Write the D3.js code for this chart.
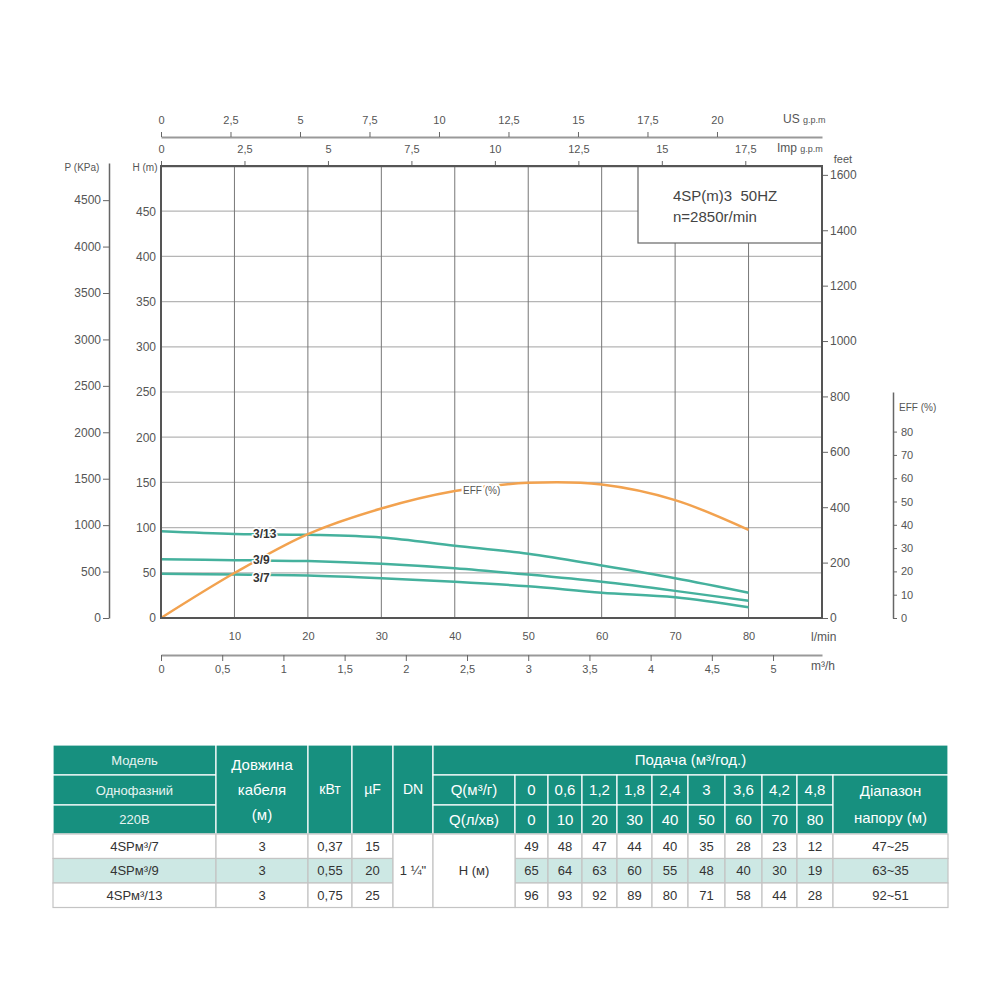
<!DOCTYPE html>
<html>
<head>
<meta charset="utf-8">
<script src="https://cdn.jsdelivr.net/npm/d3@7"></script>
<style>
body { margin: 0; background: #fff; }
svg text { font-family: "Liberation Sans Narrow", "Liberation Sans", Arial, sans-serif; }
.tbl text { font-family: "Liberation Sans", Arial, sans-serif; }
</style>
</head>
<body>
<svg id="chart" width="1000" height="1000"></svg>
<script>
// flow points (l/min and m3/h) used by the curves and the table
const flowLmin = [0, 10, 20, 30, 40, 50, 60, 70, 80];
const flowM3 = ['0', '0,6', '1,2', '1,8', '2,4', '3', '3,6', '4,2', '4,8'];

// pump models
const models = ['4SPм³/7', '4SPм³/9', '4SPм³/13'];
const curveNames = ['3/7', '3/9', '3/13'];
const cableLen = ['3', '3', '3'];
const powerKw = ['0,37', '0,55', '0,75'];
const capUf = ['15', '20', '25'];
const headRange = ['47~25', '63~35', '92~51'];

// head, m
const head7 = [49, 48, 47, 44, 40, 35, 28, 23, 12];
const head9 = [65, 64, 63, 60, 55, 48, 40, 30, 19];
const head13 = [96, 93, 92, 89, 80, 71, 58, 44, 28];

// efficiency %
const effVal = [0, 19.3, 36, 47, 54.5, 58, 57.3, 50.6, 37.8];

// tick values
const hTicks = [0, 50, 100, 150, 200, 250, 300, 350, 400, 450];
const pTicks = [0, 500, 1000, 1500, 2000, 2500, 3000, 3500, 4000, 4500];
const ftTicks = [0, 200, 400, 600, 800, 1000, 1200, 1400, 1600];
const effTicks = [0, 10, 20, 30, 40, 50, 60, 70, 80];
const usTicks = [0, 2.5, 5, 7.5, 10, 12.5, 15, 17.5, 20];
const impTicks = [0, 2.5, 5, 7.5, 10, 12.5, 15, 17.5];
const m3Ticks = [0, 0.5, 1, 1.5, 2, 2.5, 3, 3.5, 4, 4.5, 5];

const svg = d3.select('#chart');
const L = 161, R = 822, T = 166, B = 618;
const teal = '#17907f', lightTeal = '#cde8e4';
const headColor = '#45b19d', effColor = '#f2a24f';

const x = d3.scaleLinear().domain([0, 90]).range([L, R]);
const yH = d3.scaleLinear().domain([0, 500]).range([B, T]);
const yP = d3.scaleLinear().domain([0, 4900]).range([B, 163]);
const yFt = d3.scaleLinear().domain([0, 1632]).range([B, T]);
const yEff = d3.scaleLinear().domain([0, 97]).range([B, 392]);
const xUS = d3.scaleLinear().domain([0, 90 / 3.785]).range([L, R]);
const xImp = d3.scaleLinear().domain([0, 90 / 4.546]).range([L, R]);
const xM3 = d3.scaleLinear().domain([0, 5.4]).range([L, R]);

const fmt = d => String(d).replace('.', ',');
const plain = d => String(d);

function styleAxis(g, size) {
    g.select('.domain').attr('stroke', '#666').attr('stroke-width', 1.5);
    g.selectAll('.tick line').attr('stroke', '#666');
    g.selectAll('.tick text').attr('fill', '#555').style('font-size', size + 'px');
}

// grid
svg.append('g')
    .selectAll('line')
    .data(hTicks.slice(1))
    .join('line')
    .attr('x1', L).attr('x2', R)
    .attr('y1', d => yH(d)).attr('y2', d => yH(d))
    .attr('stroke', '#b5b5b5').attr('stroke-width', 1.2);
svg.append('g')
    .selectAll('line')
    .data(flowLmin.slice(1))
    .join('line')
    .attr('x1', d => x(d)).attr('x2', d => x(d))
    .attr('y1', T).attr('y2', B)
    .attr('stroke', '#777').attr('stroke-width', 1);

// legend box
svg.append('rect')
    .attr('x', 638).attr('y', T).attr('width', R - 638).attr('height', 77)
    .attr('fill', '#fff').attr('stroke', '#666').attr('stroke-width', 1.2);
svg.append('text').attr('x', 673).attr('y', 201)
    .attr('fill', '#444').style('font-size', '15px').style('white-space', 'pre')
    .style('font-family', '"Liberation Sans", Arial, sans-serif')
    .text('4SP(m)3  50HZ');
svg.append('text').attr('x', 673).attr('y', 222)
    .attr('fill', '#444').style('font-size', '15px')
    .style('font-family', '"Liberation Sans", Arial, sans-serif')
    .text('n=2850r/min');

// curves
const headLine = d3.line()
    .x((d, i) => x(flowLmin[i]))
    .y(d => yH(d))
    .curve(d3.curveCatmullRom);
svg.append('g')
    .selectAll('path')
    .data([head7, head9, head13])
    .join('path')
    .attr('d', headLine)
    .attr('fill', 'none').attr('stroke', headColor).attr('stroke-width', 2.5);

const effLine = d3.line()
    .x((d, i) => x(flowLmin[i]))
    .y(d => yEff(d))
    .curve(d3.curveCatmullRom);
svg.append('path')
    .datum(effVal)
    .attr('d', effLine)
    .attr('fill', 'none').attr('stroke', effColor).attr('stroke-width', 2.5);

// curve labels
const labelY = [head7[1], head9[1], head13[1]];
svg.append('g')
    .selectAll('text')
    .data(curveNames)
    .join('text')
    .attr('x', 253)
    .attr('y', (d, i) => yH(labelY[i]) + 4 + (i === 0 ? 3 : 0))
    .attr('fill', '#333').attr('font-weight', 'bold').style('font-size', '12px')
    .attr('stroke', '#fff').attr('stroke-width', 3).attr('paint-order', 'stroke')
    .text(d => d);
svg.append('text')
    .attr('x', 463).attr('y', 494)
    .attr('fill', '#555').style('font-size', '10px')
    .attr('stroke', '#fff').attr('stroke-width', 4).attr('paint-order', 'stroke')
    .text('EFF (%)');

// axes
svg.append('g').attr('transform', 'translate(0,137)')
    .call(d3.axisTop(xUS).tickValues(usTicks).tickSize(5).tickSizeOuter(0).tickPadding(8).tickFormat(fmt))
    .call(g => styleAxis(g, 11))
    .call(g => g.select('.domain').attr('stroke', '#999').attr('stroke-width', 2));

svg.append('g').attr('transform', `translate(0,${T})`)
    .call(d3.axisTop(xImp).tickValues(impTicks).tickSize(5).tickSizeOuter(0).tickPadding(8).tickFormat(fmt))
    .call(g => styleAxis(g, 11));

svg.append('g').attr('transform', `translate(0,${B})`)
    .call(d3.axisBottom(x).tickValues(flowLmin.slice(1)).tickSize(0).tickPadding(14))
    .call(g => styleAxis(g, 11))
    .call(g => g.select('.domain').remove());

svg.append('g').attr('transform', 'translate(0,655)')
    .call(d3.axisBottom(xM3).tickValues(m3Ticks).tickSize(6).tickSizeOuter(0).tickPadding(4).tickFormat(fmt))
    .call(g => styleAxis(g, 11))
    .call(g => g.select('.domain').attr('stroke', '#999').attr('stroke-width', 2));

svg.append('g').attr('transform', `translate(${R},0)`)
    .call(d3.axisRight(yFt).tickValues(ftTicks).tickSize(6).tickPadding(2).tickFormat(plain))
    .call(g => styleAxis(g, 12))
    .call(g => g.select('.domain').remove());

svg.append('g').attr('transform', 'translate(893,0)')
    .call(d3.axisRight(yEff).tickValues(effTicks).tickSize(4).tickSizeOuter(0).tickPadding(4).tickFormat(plain))
    .call(g => styleAxis(g, 11));

svg.append('g').attr('transform', 'translate(109,0)')
    .call(d3.axisLeft(yP).tickValues(pTicks).tickSize(6).tickSizeOuter(0).tickPadding(2).tickFormat(plain))
    .call(g => styleAxis(g, 12));

svg.append('g').attr('transform', `translate(${L},0)`)
    .call(d3.axisLeft(yH).tickValues(hTicks).tickSize(0).tickPadding(5).tickFormat(plain))
    .call(g => styleAxis(g, 12))
    .call(g => g.select('.domain').remove());

// plot border
svg.append('rect')
    .attr('x', L).attr('y', T).attr('width', R - L).attr('height', B - T)
    .attr('fill', 'none').attr('stroke', '#555').attr('stroke-width', 2);

// axis titles
const titles = [
    {t: 'P (KPa)', x: 82, y: 171, a: 'middle', s: 10},
    {t: 'H (m)', x: 145, y: 171, a: 'middle', s: 10},
    {t: 'feet', x: 843, y: 163, a: 'middle', s: 11},
    {t: 'EFF (%)', x: 899, y: 411, a: 'start', s: 10},
    {t: 'l/min', x: 811, y: 641, a: 'start', s: 12}
];
svg.append('g')
    .selectAll('text')
    .data(titles)
    .join('text')
    .attr('x', d => d.x).attr('y', d => d.y)
    .attr('text-anchor', d => d.a)
    .attr('fill', '#555').style('font-size', d => d.s + 'px')
    .text(d => d.t);

const us = svg.append('text').attr('x', 783).attr('y', 123).attr('fill', '#555');
us.append('tspan').style('font-size', '12px').text('US ');
us.append('tspan').style('font-size', '9px').text('g.p.m');
const imp = svg.append('text').attr('x', 777).attr('y', 152).attr('fill', '#555');
imp.append('tspan').style('font-size', '12px').text('Imp ');
imp.append('tspan').style('font-size', '9px').text('g.p.m');
svg.append('text').attr('x', 811).attr('y', 670).attr('fill', '#555')
    .style('font-size', '12px').text('m³/h');

// table
const colX = [53, 216, 308, 352, 393, 433, 515, 548, 582, 617, 652, 688, 725, 762, 797, 833, 948];
const rowY = [745, 775, 805, 834, 858.5, 883, 907.5];
const tbl = svg.append('g').attr('class', 'tbl');

function cell(c0, c1, r0, r1, fill, stroke, lines, size, color, lh) {
    const x0 = colX[c0], x1 = colX[c1], y0 = rowY[r0], y1 = rowY[r1];
    tbl.append('rect')
        .attr('x', x0).attr('y', y0).attr('width', x1 - x0).attr('height', y1 - y0)
        .attr('fill', fill).attr('stroke', stroke).attr('stroke-width', 1.2);
    const step = lh || size * 1.7;
    const cy = (y0 + y1) / 2 - (lines.length - 1) * step / 2;
    lines.forEach((t, i) => {
        tbl.append('text')
            .attr('x', (x0 + x1) / 2).attr('y', cy + i * step)
            .attr('dy', '0.35em').attr('text-anchor', 'middle')
            .attr('fill', color).style('font-size', size + 'px')
            .text(t);
    });
}

const hw = '#fff';
cell(0, 1, 0, 1, teal, hw, ['Модель'], 13, '#e8f4f2');
cell(0, 1, 1, 2, teal, hw, ['Однофазний'], 13, '#e8f4f2');
cell(0, 1, 2, 3, teal, hw, ['220В'], 13, '#e8f4f2');
cell(1, 2, 0, 3, teal, hw, ['Довжина', 'кабеля', '(м)'], 15, '#fff', 25);
cell(2, 3, 0, 3, teal, hw, ['кВт'], 14, '#fff');
cell(3, 4, 0, 3, teal, hw, ['µF'], 14, '#fff');
cell(4, 5, 0, 3, teal, hw, ['DN'], 14, '#fff');
cell(5, 16, 0, 1, teal, hw, ['Подача (м³/год.)'], 15, '#fff');
cell(5, 6, 1, 2, teal, hw, ['Q(м³/г)'], 15, '#fff');
cell(5, 6, 2, 3, teal, hw, ['Q(л/хв)'], 15, '#fff');
flowM3.forEach((v, i) => cell(6 + i, 7 + i, 1, 2, teal, hw, [v], 15, '#fff'));
flowLmin.forEach((v, i) => cell(6 + i, 7 + i, 2, 3, teal, hw, [String(v)], 15, '#fff'));
cell(15, 16, 1, 3, teal, hw, ['Діапазон', 'напору (м)'], 15, '#fff', 27);

const heads = [head7, head9, head13];
const bodyStroke = '#c4c4c4';
models.forEach((m, r) => {
    const bg = r === 1 ? lightTeal : '#fff';
    cell(0, 1, 3 + r, 4 + r, bg, bodyStroke, [m], 13, '#333');
    cell(1, 2, 3 + r, 4 + r, bg, bodyStroke, [cableLen[r]], 13, '#333');
    cell(2, 3, 3 + r, 4 + r, bg, bodyStroke, [powerKw[r]], 13, '#333');
    cell(3, 4, 3 + r, 4 + r, bg, bodyStroke, [capUf[r]], 13, '#333');
    heads[r].forEach((v, i) => cell(6 + i, 7 + i, 3 + r, 4 + r, bg, bodyStroke, [String(v)], 13, '#333'));
    cell(15, 16, 3 + r, 4 + r, bg, bodyStroke, [headRange[r]], 13, '#333');
});
cell(4, 5, 3, 6, '#fff', bodyStroke, ['1 ¼"'], 13, '#333');
cell(5, 6, 3, 6, '#fff', bodyStroke, ['H (м)'], 13, '#333');
</script>
</body>
</html>
